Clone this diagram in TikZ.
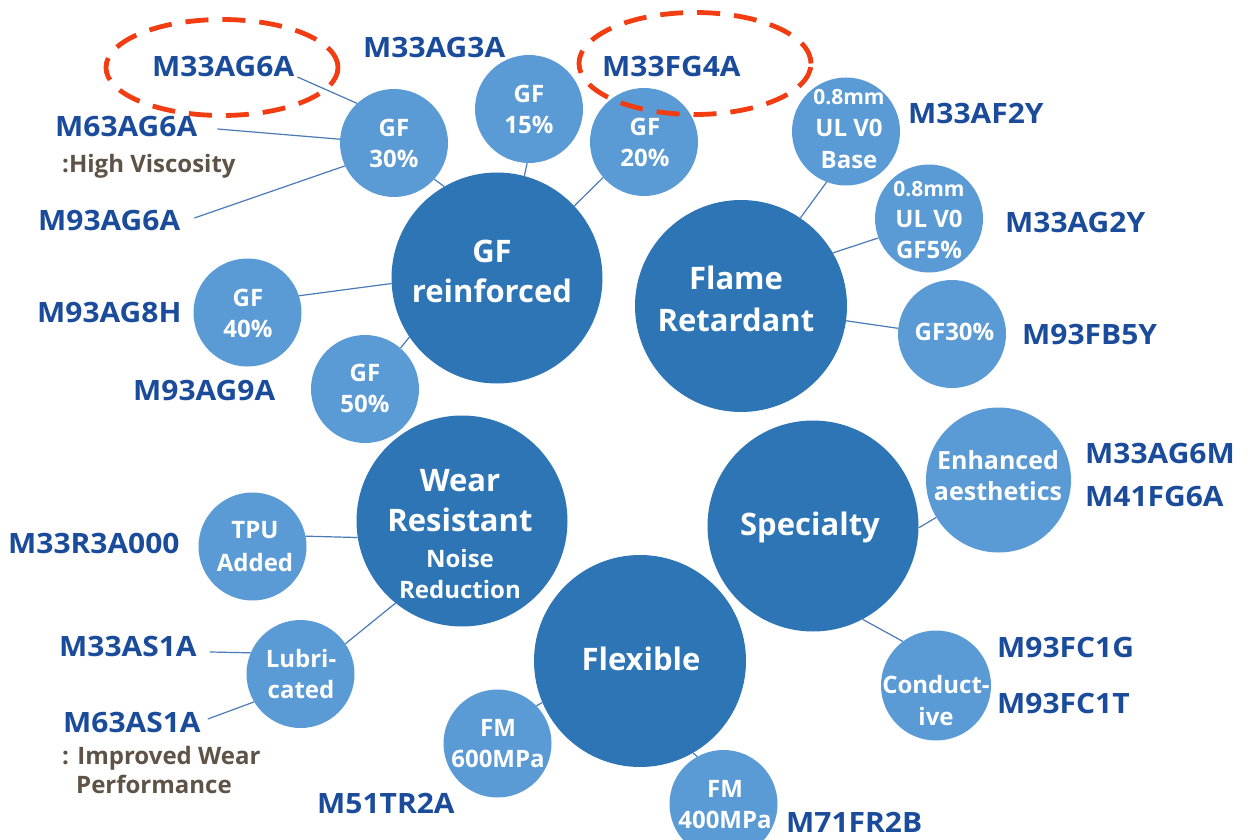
\documentclass[tikz,border=0pt]{standalone}
\usepackage{fontspec}
\setmainfont{Open Sans}
\newfontfamily\lblfont{Open Sans}[FakeStretch=1.07]
\usetikzlibrary{shapes.geometric}
\newcommand{\smallerfont}{\bfseries\fontsize{21}{24}\selectfont}
\definecolor{bigblue}{HTML}{2E75B6}
\definecolor{smallblue}{HTML}{5B9BD5}
\definecolor{lblblue}{HTML}{1B4B9B}
\definecolor{linkblue}{HTML}{4A7AB8}
\definecolor{notegray}{HTML}{5E5346}
\definecolor{hired}{HTML}{F23D12}
\tikzset{
  bigc/.style={circle, fill=bigblue, minimum size=211pt, inner sep=0pt},
  smallc/.style={circle, fill=smallblue, minimum size=108pt, inner sep=0pt},
  bigt/.style={text=white, font=\bfseries\fontsize{31}{40}\selectfont, align=center, inner sep=0pt},
  midt/.style={text=white, font=\bfseries\fontsize{24}{31}\selectfont, align=center, inner sep=0pt},
  smallt/.style={text=white, font=\bfseries\fontsize{24}{31}\selectfont, align=center, inner sep=0pt},
  lbl/.style={text=lblblue, font=\lblfont\bfseries\fontsize{28}{34}\selectfont, anchor=base west, inner sep=0pt},
  note/.style={text=notegray, font=\bfseries\fontsize{24}{30}\selectfont, anchor=base west, inner sep=0pt},
  link/.style={draw=linkblue, line width=1.2pt},
  hilite/.style={ellipse, draw=hired, line width=4.8pt, dash pattern=on 23pt off 14pt, inner sep=0pt},
}
\begin{document}
\begin{tikzpicture}[x=1pt,y=-1pt]
\useasboundingbox (0,0) rectangle (1251,840);
\fill[white] (0,0) rectangle (1251,840);

% big circles
\node[bigc] (gfr) at (497,278) {};
\node[bigc, minimum size=212pt] (fr) at (741,306) {};
\node[bigc] (wear) at (462,521) {};
\node[bigc] (spec) at (813,526) {};
\node[bigc, minimum size=212pt] (flex) at (640,661) {};

% small circles
\node[smallc] (gf30) at (394,143) {};
\node[smallc] (gf15) at (529,109) {};
\node[smallc] (gf20) at (644,142) {};
\node[smallc] (base) at (846,131.5) {};
\node[smallc] (gf5) at (929,218.5) {};
\node[smallc] (gf30p) at (952,334) {};
\node[smallc] (gf40) at (247.5,312.5) {};
\node[smallc] (gf50) at (365,389) {};
\node[smallc] (tpu) at (252.5,546.5) {};
\node[smallc] (lub) at (300.5,674) {};
\node[smallc, minimum size=145pt] (enh) at (998.5,480) {};
\node[smallc, minimum size=110pt] (cond) at (936,685.5) {};
\node[smallc] (fm600) at (497.5,743.5) {};
\node[smallc] (fm400) at (723.5,804) {};

% texts in big circles
\node[bigt] (gfrT) at (492,271) {GF\\reinforced};
\node[bigt, font=\bfseries\fontsize{31}{42}\selectfont] (frT) at (736,298.5) {Flame\\Retardant};
\node[bigt] (wearT) at (460,501) {Wear\\Resistant};
\node[midt] (wearT2) at (460,574) {Noise\\Reduction};
\node[bigt, anchor=base] (specT) at (810,535) {Specialty};
\node[bigt, anchor=base] (flexT) at (641,670) {Flexible};

% texts in small circles
\node[smallt] (gf30T) at (394,143.5) {GF\\30\%};
\node[smallt] (gf15T) at (529,109) {GF\\15\%};
\node[smallt] (gf20T) at (645,142.5) {GF\\20\%};
\node[smallt, font=\bfseries\fontsize{24}{32}\selectfont] (baseT) at (849,129.5) {{\smallerfont 0.8mm}\\UL V0\\Base};
\node[smallt] (gf5T) at (929,220.5) {{\smallerfont 0.8mm}\\UL V0\\GF5\%};
\node[smallt, anchor=base] (gf30pT) at (954.5,340) {GF30\%};
\node[smallt] (gf40T) at (248,313.5) {GF\\40\%};
\node[smallt] (gf50T) at (365,388) {GF\\50\%};
\node[smallt, font=\bfseries\fontsize{24}{33}\selectfont] (tpuT) at (255,547) {TPU\\Added};
\node[smallt] (lubT) at (301,674) {Lubri-\\cated};
\node[smallt, font=\bfseries\fontsize{25}{31}\selectfont] (enhT) at (998,476) {Enhanced\\aesthetics};
\node[smallt, font=\bfseries\fontsize{24}{32}\selectfont] (condT) at (936,700.5) {Conduct-\\ive};
\node[smallt] (fm600T) at (498,744) {FM\\600MPa};
\node[smallt] (fm400T) at (725,804.5) {FM\\400MPa};

% product labels
\node[lbl] (m33ag6a) at (152,77) {M33AG6A};
\node[lbl] (m63ag6a) at (55,137) {M63AG6A};
\node[note] (hv) at (62,173) {:High Viscosity};
\node[lbl] (m93ag6a) at (38,230) {M93AG6A};
\node[lbl] (m33ag3a) at (363,58) {M33AG3A};
\node[lbl] (m33fg4a) at (602,77) {M33FG4A};
\node[lbl] (m33af2y) at (908,124) {M33AF2Y};
\node[lbl] (m33ag2y) at (1005,233) {M33AG2Y};
\node[lbl] (m93fb5y) at (1022,344) {M93FB5Y};
\node[lbl] (m93ag8h) at (37,322) {M93AG8H};
\node[lbl] (m93ag9a) at (133,400) {M93AG9A};
\node[lbl] (m33r3a000) at (8,553) {M33R3A000};
\node[lbl] (m33as1a) at (59,656) {M33AS1A};
\node[lbl] (m63as1a) at (63,732) {M63AS1A};
\node[note] (iw1) at (62,764) {: Improved Wear};
\node[note] (iw2) at (76,793) {Performance};
\node[lbl] (m51tr2a) at (317,813) {M51TR2A};
\node[lbl] (m71fr2b) at (786,832) {M71FR2B};
\node[lbl] (m33ag6m) at (1085,463) {M33AG6M};
\node[lbl] (m41fg6a) at (1085,506) {M41FG6A};
\node[lbl] (m93fc1g) at (997,657) {M93FC1G};
\node[lbl] (m93fc1t) at (997,713) {M93FC1T};

% label connectors
\draw[link] ([xshift=3pt]m33ag6a.base east) -- (gf30.133);
\draw[link] ([xshift=20pt,yshift=-2pt]m63ag6a.east) -- (gf30.176);
\draw[link] ([xshift=14pt,yshift=2pt]m93ag6a.east) -- (gf30.205);
\draw[link] ([xshift=13pt,yshift=-6pt]m33as1a.east) -- (lub.157);
\draw[link] ([xshift=7pt,yshift=3pt]m63as1a.east) -- (lub.211);

% circle connectors
\draw[link] (gf30.-42) -- (gfr.120);
\draw[link] (gf15.-92) -- (gfr.75);
\draw[link] (gf20.221) -- (gfr.43);
\draw[link] (gf40.18) -- (gfr.183);
\draw[link] (gf50.49) -- (gfr.214);
\draw[link] (base.249) -- (fr.56);
\draw[link] (gf5.201) -- (fr.30);
\draw[link] (gf30p.174) -- (fr.-8);
\draw[link] (tpu.11) -- (wear.189);
\draw[link] (lub.34) -- (wear.231);
\draw[link] (enh.211) -- (spec.-1);
\draw[link] (spec.-62) -- (cond.127);
\draw[link] (fm600.44) -- (flex.203);
\draw[link] (fm400.119) -- (flex.-60);

% highlight ellipses
\node[hilite, minimum width=232pt, minimum height=96pt] (hl1) at (222,67.5) {};
\node[hilite, minimum width=232pt, minimum height=102pt] (hl2) at (695,63.5) {};
\end{tikzpicture}
\end{document}
